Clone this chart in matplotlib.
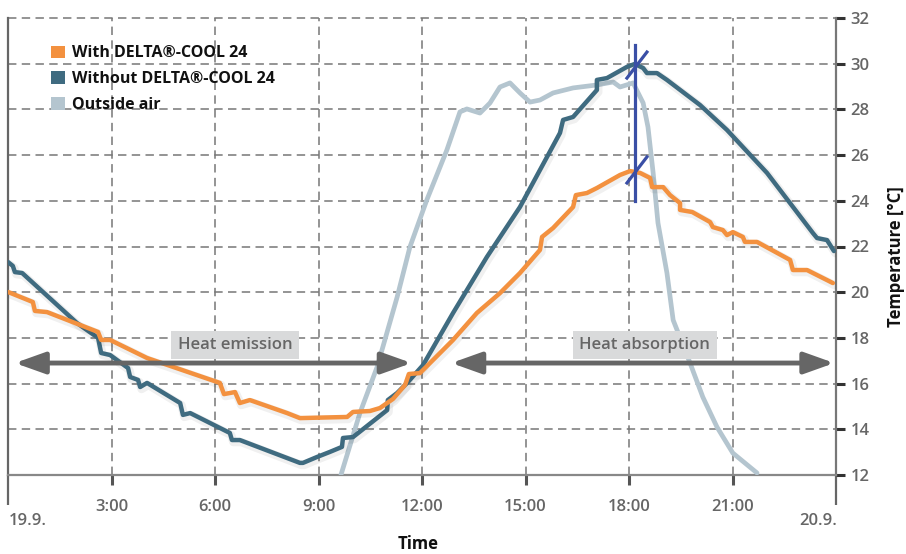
import matplotlib
matplotlib.use("Agg")
import matplotlib.pyplot as plt
import matplotlib.patheffects as pe
from matplotlib.patches import FancyArrowPatch, Patch
from matplotlib.ticker import FixedLocator

plt.rcParams['font.family'] = ['Open Sans', 'DejaVu Sans']

# ---------------- data (hours since 19.9. 0:00, temperature in °C) ----------------
with_hours = [0.00, 0.72, 0.78, 1.13, 2.61, 2.70, 2.96, 4.03, 6.14, 6.26, 6.58, 6.72, 7.01,
              8.09, 8.46, 9.83, 10.00, 10.49, 10.78, 11.16, 11.51, 11.62, 11.94, 12.90,
              13.59, 14.26, 14.84, 15.42, 15.48, 15.80, 16.38, 16.46, 16.78, 17.07, 17.74,
              18.03, 18.32, 18.61, 18.67, 18.99, 19.19, 19.48, 19.48, 19.83, 20.35, 20.43,
              20.72, 20.84, 21.01, 21.30, 21.36, 21.71, 22.67, 22.75, 23.16, 23.91]
with_temp = [20.01, 19.57, 19.18, 19.13, 18.26, 17.91, 17.91, 17.12, 16.03, 15.54, 15.63, 15.15, 15.28,
             14.71, 14.49, 14.54, 14.76, 14.80, 14.93, 15.33, 15.94, 16.42, 16.46, 17.91,
             19.09, 19.96, 20.84, 21.85, 22.42, 22.81, 23.73, 24.25, 24.34, 24.56, 25.13,
             25.30, 25.22, 25.00, 24.60, 24.60, 24.25, 23.90, 23.60, 23.51, 23.07, 22.85,
             22.72, 22.50, 22.63, 22.42, 22.20, 22.20, 21.41, 20.97, 20.97, 20.40]

without_hours = [0.00, 0.14, 0.20, 0.41, 2.00, 2.61, 2.70, 2.96, 3.48, 3.54, 3.77, 3.83, 4.03,
                 4.99, 5.07, 5.28, 6.43, 6.49, 6.72, 8.46, 8.55, 8.96, 9.33, 9.68, 9.71,
                 10.00, 10.99, 11.01, 11.28, 11.57, 12.03, 12.90, 13.88, 14.84, 16.00, 16.09,
                 16.38, 17.07, 17.07, 17.36, 17.94, 18.17, 18.41, 18.52, 18.81, 19.10, 20.06,
                 20.84, 22.00, 23.33, 23.45, 23.74, 23.94]
without_temp = [21.32, 21.15, 20.88, 20.84, 18.65, 18.00, 17.34, 17.25, 16.68, 16.29, 16.16, 15.85, 16.03,
                15.15, 14.63, 14.71, 13.84, 13.53, 13.53, 12.53, 12.53, 12.79, 13.01, 13.23, 13.62,
                13.66, 14.84, 15.28, 15.59, 16.03, 16.81, 19.09, 21.54, 23.73, 26.97, 27.54,
                27.67, 28.85, 29.29, 29.37, 29.86, 29.99, 29.81, 29.59, 29.59, 29.29, 28.19,
                27.10, 25.22, 22.59, 22.37, 22.28, 21.80]

outside_hours = [9.65, 10.20, 10.70, 11.28, 11.65, 12.14, 12.72, 13.10, 13.30, 13.68, 13.97,
                 14.26, 14.55, 14.84, 15.13, 15.42, 15.80, 16.38, 17.07, 17.54, 17.74, 18.12,
                 18.41, 18.55, 18.70, 18.84, 19.10, 19.28, 19.77, 20.14, 20.55, 21.01, 21.71]
outside_temp = [12.00, 14.71, 16.73, 19.79, 21.98, 24.04, 26.22, 27.89, 28.02, 27.84, 28.28,
                28.98, 29.16, 28.72, 28.32, 28.41, 28.72, 28.94, 29.07, 29.20, 28.98, 29.16,
                28.28, 27.23, 25.22, 23.03, 20.84, 18.78, 16.90, 15.41, 14.10, 12.96, 12.09]

series_labels = ["With DELTA®-COOL 24", "Without DELTA®-COOL 24", "Outside air"]
series_colors = ["#f3913f", "#3f6b80", "#b4c5cf"]

x_ticks = [3, 6, 9, 12, 15, 18, 21]
x_tick_labels = ["3:00", "6:00", "9:00", "12:00", "15:00", "18:00", "21:00"]
y_ticks = [12, 14, 16, 18, 20, 22, 24, 26, 28, 30, 32]
date_labels = ["19.9.", "20.9."]
band_labels = ["Heat emission", "Heat absorption"]

# ---------------- figure ----------------
W, H = 906, 554
fig = plt.figure(figsize=(W / 100, H / 100), dpi=100)
ax = fig.add_axes([8 / W, 1 - 475 / H, 828 / W, 457 / H])
ax.set_xlim(0, 24)
ax.set_ylim(12, 32)

grid_kw = dict(color="#777777", lw=1.1, dashes=(5.5, 3.5), zorder=1)
for xv in x_ticks:
    ax.axvline(xv, **grid_kw)
for yv in y_ticks[1:]:
    ax.axhline(yv, clip_on=False, **grid_kw)

shadow = [pe.SimpleLineShadow(offset=(1.0, -1.5), alpha=0.06, shadow_color="black",
                              linewidth=6), pe.Normal()]
lw = 3.2
ax.plot(outside_hours, outside_temp, color=series_colors[2], lw=3.4, zorder=3,
        solid_capstyle="round", solid_joinstyle="round")
ax.plot(without_hours, without_temp, color=series_colors[1], lw=lw, zorder=4,
        solid_capstyle="round", solid_joinstyle="round", path_effects=shadow)
ax.plot(with_hours, with_temp, color=series_colors[0], lw=lw, zorder=5,
        solid_capstyle="round", solid_joinstyle="round", path_effects=shadow)

# blue marker at the peaks
blue = "#3a4fa6"
ax.plot([18.17, 18.17], [24.0, 30.82], color=blue, lw=2.3, zorder=6)
ax.plot([17.94, 18.52], [29.37, 30.51], color=blue, lw=2.3, zorder=6)
ax.plot([17.94, 18.52], [24.78, 25.92], color=blue, lw=2.3, zorder=6)

# arrows + labels
arrow_color = "#666666"
for (x0, x1) in [(0.2, 11.7), (12.85, 23.95)]:
    arr = FancyArrowPatch((x0, 16.9), (x1, 16.9),
                          arrowstyle="<|-|>,head_length=1.4,head_width=0.5",
                          mutation_scale=13, lw=3.5, color=arrow_color, zorder=7,
                          shrinkA=0, shrinkB=0)
    ax.add_patch(arr)
for xc, lab in zip([6.58, 18.46], band_labels):
    ax.text(xc, 17.69, lab, ha="center", va="center", fontsize=12, fontweight="semibold",
            color="#666666", zorder=8,
            bbox=dict(boxstyle="square,pad=0.38", fc="#d9dadb", ec="none"))

# spines
ax.spines["top"].set_visible(False)
ax.spines["left"].set_color("#666666")
ax.spines["left"].set_linewidth(1.6)
ax.spines["right"].set_color("#777777")
ax.spines["right"].set_linewidth(1.6)
ax.spines["bottom"].set_color("#888888")
ax.spines["bottom"].set_linewidth(1.6)
for s in ax.spines.values():
    s.set_zorder(2)

ax.set_xticks(x_ticks)
ax.set_xticklabels(x_tick_labels)
ax.xaxis.set_minor_locator(FixedLocator([0, 24]))
ax.tick_params(axis="x", which="major", direction="out", length=7, width=2.2, color="#555555",
               pad=10, labelsize=12, labelcolor="#666666")
ax.tick_params(axis="x", which="minor", direction="out", length=21.5, width=1.6, color="#666666")
for t in ax.get_xticklabels():
    t.set_fontweight("semibold")

ax.yaxis.tick_right()
ax.set_yticks(y_ticks)
ax.tick_params(axis="y", direction="out", length=6.5, width=2.2, color="#333333",
               pad=4, labelsize=12, labelcolor="#666666")
for t in ax.get_yticklabels():
    t.set_fontweight("semibold")

fig.text(28 / W, 1 - 521 / H, date_labels[0], ha="center", va="center", fontsize=12,
         fontweight="semibold", color="#666666")
fig.text(818 / W, 1 - 521 / H, date_labels[1], ha="center", va="center", fontsize=12,
         fontweight="semibold", color="#666666")
fig.text(418 / W, 1 - 544 / H, "Time", ha="center", va="center", fontsize=12,
         fontweight="bold", color="#111111")
fig.text(896 / W, 1 - 257 / H, "Temperature [°C]", ha="center", va="center", fontsize=12,
         fontweight="bold", color="#111111", rotation=90)

# legend
handles = [Patch(facecolor=c, edgecolor="none") for c in series_colors]
leg = ax.legend(handles, series_labels, loc="upper left", bbox_to_anchor=(0.052, 0.94),
                frameon=False, fontsize=11.5, handlelength=0.85, handleheight=0.85,
                handletextpad=0.45, labelspacing=0.62, borderpad=0, borderaxespad=0)
for t in leg.get_texts():
    t.set_fontweight("bold")
    t.set_color("#111111")
leg.set_zorder(9)

fig.savefig("out.png", dpi=100)
